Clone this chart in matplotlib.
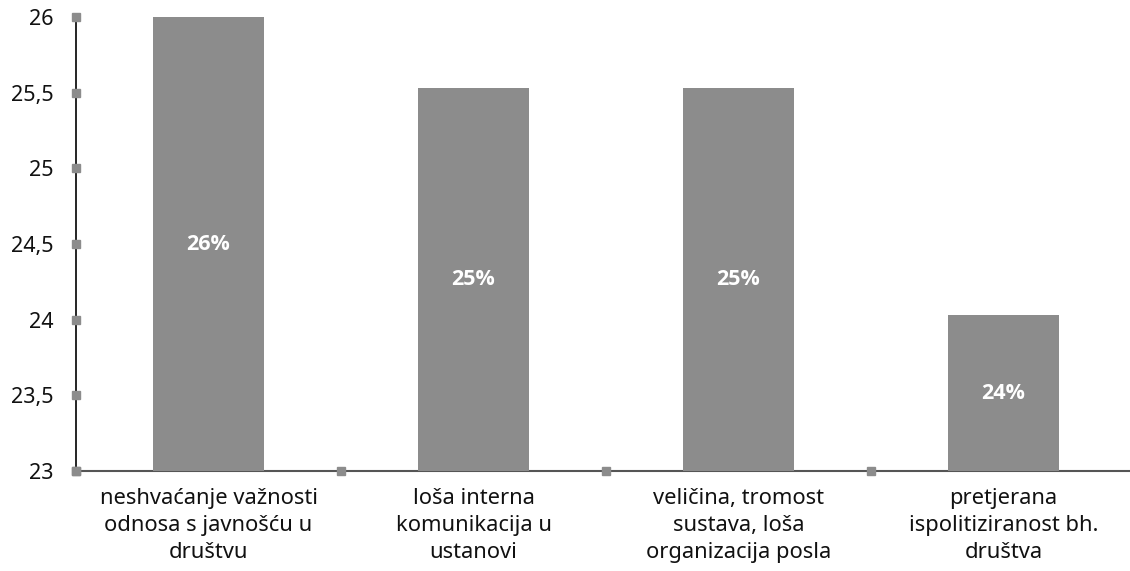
import matplotlib
matplotlib.use("Agg")
import matplotlib.pyplot as plt
import numpy as np

plt.rcParams['font.family'] = ['Noto Sans', 'DejaVu Sans']

categories = [
    "neshvaćanje važnosti\nodnosa s javnošću u\ndruštvu",
    "loša interna\nkomunikacija u\nustanovi",
    "veličina, tromost\nsustava, loša\norganizacija posla",
    "pretjerana\nispolitiziranost bh.\ndruštva",
]
values = [26.0, 25.53, 25.53, 24.03]
y_ticks = [23, 23.5, 24, 24.5, 25, 25.5, 26]
y_tick_labels = ["23", "23,5", "24", "24,5", "25", "25,5", "26"]

W, H = 1130, 571
fig = plt.figure(figsize=(W / 100, H / 100), dpi=100)
left_px, right_px, top_px, bottom_px = 76, 1136, 17, 471
ax = fig.add_axes([left_px / W, 1 - bottom_px / H,
                   (right_px - left_px) / W, (bottom_px - top_px) / H])

bar_color = "#8c8c8c"
x = np.arange(len(categories))
ax.bar(x, np.array(values) - 23, bottom=23, width=0.42,
       color=bar_color, zorder=2)

for xi, v in zip(x, values):
    ax.text(xi, (23 + v) / 2, f"{int(v):d}%", ha="center", va="center",
            color="white", fontsize=15.5, fontweight="bold",
            family=["Open Sans", "DejaVu Sans"], zorder=3)

ax.set_xlim(-0.5, len(categories) - 0.5)
ax.set_ylim(23, 26)

for s in ["top", "right"]:
    ax.spines[s].set_visible(False)
ax.spines["left"].set_color("#000000")
ax.spines["left"].set_linewidth(1.2)
ax.spines["bottom"].set_color("#555555")
ax.spines["bottom"].set_linewidth(1.5)
ax.spines["left"].set_zorder(1)
ax.spines["bottom"].set_zorder(1)

ax.set_yticks(y_ticks)
ax.set_yticklabels(y_tick_labels, fontsize=15.5, color="#111111")
ax.tick_params(axis="y", length=0, pad=16)
ax.set_xticks(x)
ax.set_xticklabels(categories, fontsize=15.8, color="#111111", linespacing=1.4)
ax.tick_params(axis="x", length=0, pad=12)

# square tick markers on both axes
ax.plot([-0.5] * len(y_ticks), y_ticks, "s", color="#8c8c8c", ms=5.5,
        clip_on=False, zorder=4)
ax.plot(np.arange(len(categories)) - 0.5, [23] * len(categories), "s",
        color="#8c8c8c", ms=5.5, clip_on=False, zorder=4)

fig.savefig("out.png", dpi=100)
